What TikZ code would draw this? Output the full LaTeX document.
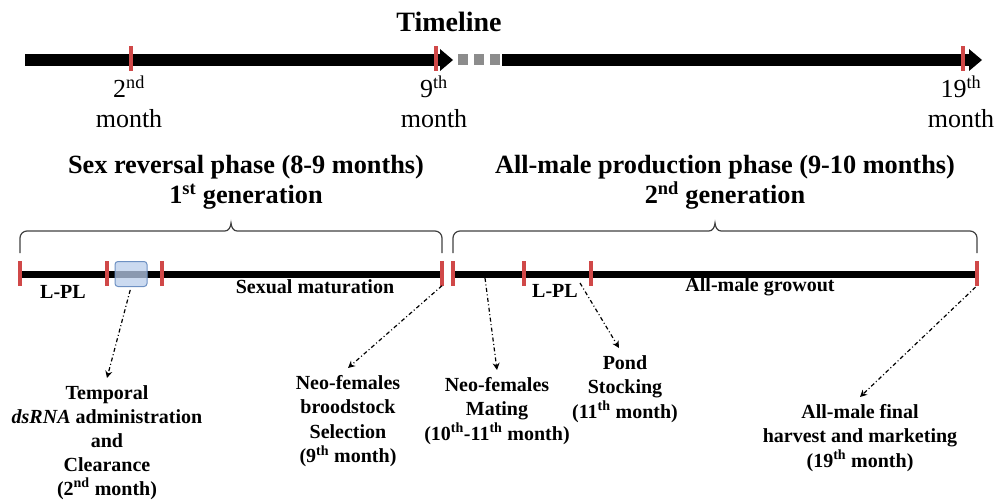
\documentclass[tikz,border=0pt]{standalone}
\usepackage{fontspec}
\setmainfont{Liberation Serif}
\usetikzlibrary{positioning,arrows.meta}
\definecolor{tickred}{RGB}{208,72,72}
\definecolor{boxblue}{RGB}{185,205,235}
\definecolor{boxedge}{RGB}{110,145,195}

\begin{document}
\begin{tikzpicture}[x=1pt, y=-1pt, >={Stealth[length=7pt, width=7pt]}]
  % Styles
  \tikzset{
    tick/.style={fill=tickred, minimum width=3.5pt, minimum height=25pt, inner sep=0pt},
    axis/.style={line width=12pt, -{Triangle[length=13pt, width=22pt, line width=0pt]}},
    bar/.style={line width=7pt},
    brace/.style={line width=1.2pt, black!75},
    monthlbl/.style={font=\fontsize{26}{30}\selectfont, align=center, inner sep=0pt},
    phase/.style={font=\fontsize{26.3}{30}\selectfont\bfseries, align=center, inner sep=0pt, anchor=north},
    stage/.style={font=\fontsize{20}{24}\selectfont\bfseries, inner sep=0pt},
    event/.style={font=\fontsize{20}{24.5}\selectfont\bfseries, align=center, inner ysep=7pt, inner xsep=0pt, anchor=north},
    conn/.style={->, line width=1.2pt, dash pattern=on 4pt off 2.5pt on 1pt off 2.5pt}
  }
  \useasboundingbox (0,0) rectangle (995,500);

  % Upper timeline
  \node[font=\fontsize{28}{32}\selectfont\bfseries] (title) at (449,22) {Timeline};
  \draw[axis] (25,60) -- (453,60);
  \foreach \x in {463,479,495}
    \fill[gray!90] (\x-5,54.5) rectangle ++(10,11);
  \draw[axis] (502,60) -- (982,60);
  \node[tick] (m2) at (131,59) {};
  \node[tick] (m9) at (436,59) {};
  \node[tick] (m19) at (963,59) {};
  \node[monthlbl, below=4pt of m2, xshift=-2pt] (l2) {2\textsuperscript{nd}\\month};
  \node[monthlbl, below=4pt of m9, xshift=-2pt] (l9) {9\textsuperscript{th}\\month};
  \node[monthlbl, below=4pt of m19, xshift=-2pt] (l19) {19\textsuperscript{th}\\month};

  % Phase titles and braces
  \node[phase] (sexrev) at (246,155) {Sex reversal phase (8-9 months)\\1\textsuperscript{st} generation};
  \node[phase] (allmale) at (725,155) {All-male production phase (9-10 months)\\2\textsuperscript{nd} generation};
  \draw[brace] (20,253) -- (20,238) to[out=90,in=180] (27,231) -- (225,231)
    to[out=0,in=-95] (231,223) to[out=-85,in=180] (237,231) -- (435,231)
    to[out=0,in=90] (442,238) -- (442,253);
  \draw[brace] (453,253) -- (453,238) to[out=90,in=180] (460,231) -- (709,231)
    to[out=0,in=-95] (715,223) to[out=-85,in=180] (721,231) -- (970,231)
    to[out=0,in=90] (977,238) -- (977,253);

  % Lower timeline
  \draw[bar] (20,274) -- (442,274);
  \draw[bar] (453,274) -- (977,274);
  \node[tick] (s0) at (20,273) {};
  \node[tick] (s2) at (107,273) {};
  \node[tick] (s3) at (162,273) {};
  \node[tick] (s9) at (442,273) {};
  \node[tick] (g9) at (453,273) {};
  \node[tick] (g10) at (524,273) {};
  \node[tick] (g11) at (591,273) {};
  \node[tick] (g19) at (977,273) {};
  \node[draw=boxedge, line width=1pt, fill=boxblue, fill opacity=0.75, rounded corners=3pt,
        minimum width=32pt, minimum height=25pt, inner sep=0pt] (ds) at (131,274) {};

  % Stage labels
  \node[stage] (lpl1) at (63,292) {L-PL};
  \node[stage] (sexmat) at (315,287) {Sexual maturation};
  \node[stage] (lpl2) at (555,291) {L-PL};
  \node[stage] (growout) at (760,287) {All-male growout};

  % Events
  \node[event, font=\fontsize{20}{24}\selectfont\bfseries] (dsrna) at (107,378) {Temporal\\\textit{dsRNA} administration\\and\\Clearance\\(2\textsuperscript{nd} month)};
  \node[event] (brood) at (348,368) {Neo-females\\broodstock\\Selection\\(9\textsuperscript{th} month)};
  \node[event] (mating) at (497,370) {Neo-females\\Mating\\(10\textsuperscript{th}-11\textsuperscript{th} month)};
  \node[event] (pond) at (625,348) {Pond\\Stocking\\(11\textsuperscript{th} month)};
  \node[event] (harvest) at (860,397) {All-male final\\harvest and marketing\\(19\textsuperscript{th} month)};

  % Connectors
  \coordinate (matesrc) at (485,278);
  \coordinate (pondsrc) at (580,283);
  \draw[conn, shorten <=3pt] (ds.south) -- (dsrna.north);
  \draw[conn] (s9.south) -- (brood.north);
  \draw[conn] (matesrc) -- (mating.north);
  \draw[conn] (pondsrc) -- ([xshift=-6pt]pond.north);
  \draw[conn, shorten <=2pt] (g19.south) -- (harvest.north);
\end{tikzpicture}
\end{document}
